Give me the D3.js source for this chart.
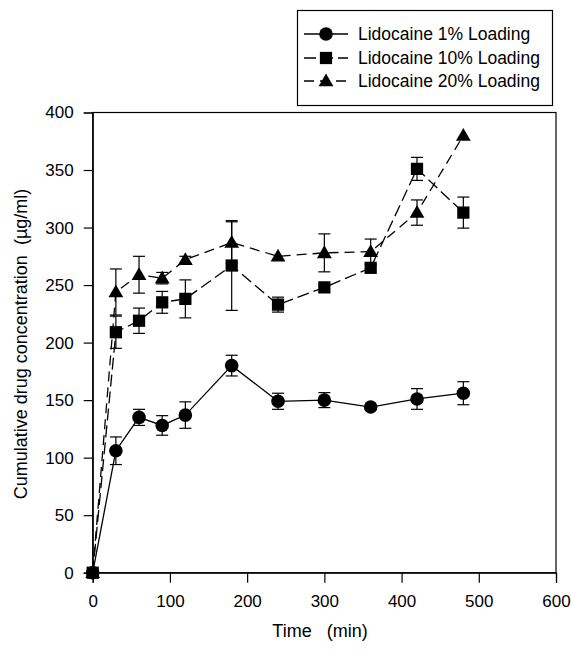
<!DOCTYPE html>
<html><head><meta charset="utf-8">
<script src="https://cdn.jsdelivr.net/npm/d3@7"></script>
<style>body{margin:0;background:#fff}svg{display:block}text{font-family:"Liberation Sans",Arial,sans-serif;fill:#000}</style>
</head><body><svg id="c" width="571" height="655"></svg>
<script>
const times = [0, 30, 60, 90, 120, 180, 240, 300, 360, 420, 480];
const seriesNames = ["Lidocaine 1% Loading", "Lidocaine 10% Loading", "Lidocaine 20% Loading"];
const lido1 = [0, 106, 135, 128, 137, 180, 149, 150, 144, 151, 156];
const lido1Err = [0, 12, 7, 8.5, 11.5, 9, 7, 6.5, 2, 9, 10];
const lido10 = [0, 209, 219, 235, 238, 267, 233, 248, 265, 351, 313];
const lido10Err = [0, 14, 11, 9.5, 16.5, 39, 6.5, 2, 2, 10, 13.5];
const lido20 = [0, 244, 259, 256, 272, 287, 275, 278, 279, 313, 380];
const lido20Err = [0, 20, 16, 5, 3, 18, 2, 16.5, 11, 11, 2];
const xTicks = [0, 100, 200, 300, 400, 500, 600];
const yTicks = [0, 50, 100, 150, 200, 250, 300, 350, 400];

const svg = d3.select("#c");
const x = d3.scaleLinear().domain([0, 600]).range([92.7, 556]);
const y = d3.scaleLinear().domain([0, 400]).range([572.7, 112.5]);

// frame
svg.append("rect").attr("x", x(0)).attr("y", y(400)).attr("width", x(600) - x(0)).attr("height", y(0) - y(400))
  .attr("fill", "none").attr("stroke", "#000").attr("stroke-width", 1.2);

const xAxis = svg.append("g").attr("transform", `translate(0,${y(0)})`)
  .call(d3.axisBottom(x).tickValues(xTicks).tickSize(10).tickPadding(12).tickFormat(d3.format("d")));
const yAxis = svg.append("g").attr("transform", `translate(${x(0)},0)`)
  .call(d3.axisLeft(y).tickValues(yTicks).tickSize(9).tickPadding(10).tickFormat(d3.format("d")));
[xAxis, yAxis].forEach(a => {
  a.select(".domain").attr("stroke", "#000").attr("stroke-width", 1.2);
  a.selectAll(".tick line").attr("stroke", "#000").attr("stroke-width", 1.2);
  a.selectAll(".tick text").style("font-size", "17px").style("font-family", "Liberation Sans, Arial, sans-serif");
});

svg.append("text").attr("x", 320).attr("y", 637).attr("text-anchor", "middle").style("font-size", "18px")
  .attr("xml:space", "preserve").text("Time   (min)");
svg.append("text").attr("transform", `translate(21,344) rotate(-90)`).attr("text-anchor", "middle")
  .attr("dy", "0.35em").style("font-size", "18px").attr("xml:space", "preserve")
  .text("Cumulative drug concentration  (\u00b5g/ml)");

const series = [
  { vals: lido1, err: lido1Err, dash: null, sym: d3.symbolCircle, size: 145 },
  { vals: lido10, err: lido10Err, dash: "12,5", sym: d3.symbolSquare, size: 150 },
  { vals: lido20, err: lido20Err, dash: "10,6", sym: d3.symbolTriangle, size: 95 }
];
const line = d3.line().x((d, i) => x(times[i])).y(d => y(d));

series.slice().reverse().forEach(s => {
  const g = svg.append("g");
  g.append("path").attr("d", line(s.vals)).attr("fill", "none").attr("stroke", "#000").attr("stroke-width", 1.3)
    .attr("stroke-dasharray", s.dash);
  s.vals.forEach((v, i) => {
    const e = s.err[i];
    if (e > 2.5) {
      const xc = x(times[i]);
      g.append("line").attr("x1", xc).attr("x2", xc).attr("y1", y(v + e)).attr("y2", y(v - e)).attr("stroke", "#000").attr("stroke-width", 1.2);
      [v + e, v - e].forEach(t => g.append("line").attr("x1", xc - 6).attr("x2", xc + 6).attr("y1", y(t)).attr("y2", y(t)).attr("stroke", "#000").attr("stroke-width", 1.2));
    }
  });
  g.selectAll("path.m").data(s.vals).enter().append("path").attr("class", "m")
    .attr("transform", (d, i) => `translate(${x(times[i])},${y(d) + (s.sym === d3.symbolTriangle ? 1 : 0)})`)
    .attr("d", d3.symbol().type(s.sym).size(s.size)).attr("fill", "#000");
});

// legend
const lg = svg.append("g");
lg.append("rect").attr("x", 297.5).attr("y", 10.5).attr("width", 255).attr("height", 95).attr("fill", "#fff").attr("stroke", "#000").attr("stroke-width", 1.2);
const rowsY = [34, 58, 81];
series.forEach((s, i) => {
  const yy = rowsY[i];
  lg.append("line").attr("x1", 304).attr("x2", 348).attr("y1", yy).attr("y2", yy).attr("stroke", "#000").attr("stroke-width", 1.3)
    .attr("stroke-dasharray", s.dash);
  lg.append("path").attr("transform", `translate(326,${yy + (s.sym === d3.symbolTriangle ? 1 : 0)})`).attr("d", d3.symbol().type(s.sym).size(s.size)).attr("fill", "#000");
  lg.append("text").attr("x", 358).attr("y", yy).attr("dy", "0.36em").style("font-size", "17.5px").text(seriesNames[i]);
});
</script></body></html>
